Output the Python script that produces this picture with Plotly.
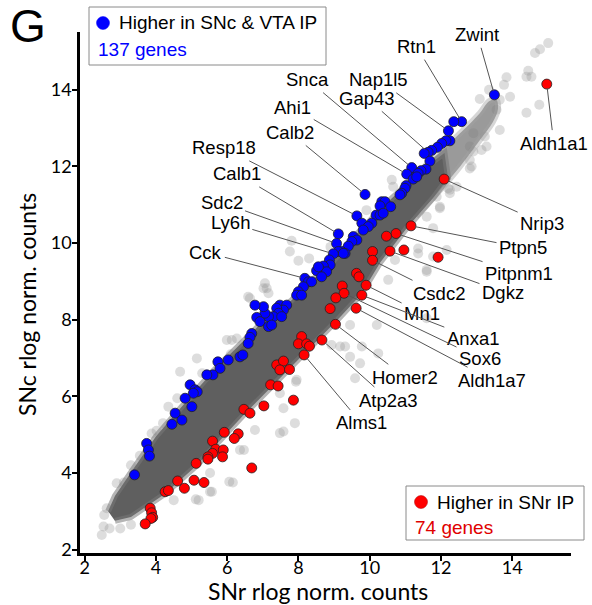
import plotly.graph_objects as go

# ---------------- data ----------------
blue_x = [13.50, 12.58, 12.36, 12.21, 12.25, 12.14, 12.02, 11.90, 11.74, 11.64, 11.53, 11.69, 11.58, 11.44,
          11.28, 11.18, 11.36, 11.04, 11.22, 11.32, 11.02, 10.99, 10.90, 10.85, 9.87, 10.34, 10.43, 10.59,
          10.29, 10.18, 10.29, 10.38, 9.64, 9.78, 10.06, 9.96, 9.82, 9.54, 9.64, 9.50, 9.40, 9.12, 9.07,
          9.21, 9.31, 9.12, 9.26, 8.98, 8.87, 8.84, 8.89, 8.70, 8.61, 8.51, 8.79, 8.65, 8.56, 8.18, 8.28,
          8.37, 8.14, 8.00, 7.95, 8.09, 7.48, 7.67, 7.58, 7.39, 7.44, 7.30, 7.53, 7.16, 7.06, 7.02, 6.78,
          6.83, 6.92, 7.16, 7.25, 6.69, 6.64, 6.59, 6.36, 6.44, 6.03, 5.74, 5.80, 5.60, 5.43, 4.96, 5.10,
          5.16, 5.05, 4.82, 5.01, 4.54, 4.73, 4.45, 3.74, 3.79, 3.82, 3.40]
blue_y = [13.87, 13.17, 13.17, 12.93, 12.67, 12.67, 12.60, 12.50, 12.42, 12.37, 12.34, 12.14, 11.93, 11.89,
          11.84, 11.97, 11.82, 11.80, 11.67, 11.73, 11.50, 11.43, 11.30, 11.26, 11.27, 11.08, 11.08, 10.95,
          10.97, 10.73, 10.73, 10.78, 10.71, 10.52, 10.52, 10.43, 10.34, 10.17, 10.08, 10.04, 9.92, 10.24, 9.99,
          9.78, 9.73, 9.78, 9.73, 9.72, 9.56, 9.38, 9.43, 9.40, 9.30, 9.28, 9.25, 9.12, 9.38, 9.08, 8.99,
          8.99, 8.86, 8.73, 8.64, 8.64, 8.38, 8.38, 8.25, 8.30, 8.17, 8.08, 8.08, 8.08, 8.17, 8.34, 8.38,
          8.06, 7.95, 7.82, 7.86, 7.64, 7.54, 7.38, 7.03, 7.08, 6.95, 6.90, 6.73, 6.56, 6.56, 6.30, 6.17,
          6.12, 6.08, 5.95, 5.73, 5.56, 5.38, 5.27, 4.77, 4.60, 4.44, 3.95]

red_x = [14.97, 12.09, 11.16, 10.74, 10.47, 10.96, 10.57, 11.92, 10.08, 10.08, 9.63, 9.70, 9.90, 9.23,
         9.28, 9.05, 9.78, 9.62, 8.89, 9.04, 8.09, 8.00, 8.23, 8.31, 8.66, 8.16, 7.39, 7.58, 7.48, 7.75,
         7.86, 7.22, 7.43, 6.47, 6.64, 7.03, 5.92, 6.31, 6.20, 5.59, 5.68, 5.89, 5.59, 5.46, 5.46, 5.87,
         5.13, 6.69, 4.61, 5.07, 5.35, 4.80, 4.26, 4.35, 3.84, 3.88, 3.91, 3.86, 3.70]
red_y = [14.15, 11.67, 10.45, 10.25, 10.18, 9.82, 9.79, 9.63, 9.78, 9.55, 9.21, 9.12, 8.90, 8.88,
         8.69, 8.57, 8.64, 8.30, 8.29, 7.88, 7.56, 7.37, 7.37, 7.31, 7.47, 7.08, 6.82, 6.92, 6.69, 6.70,
         5.90, 6.30, 6.27, 5.66, 5.56, 5.75, 5.06, 5.02, 4.90, 4.83, 4.62, 4.60, 4.51, 4.42, 4.36, 4.42,
         4.25, 4.13, 3.79, 3.81, 3.75, 3.60, 3.51, 3.54, 3.08, 2.96, 2.84, 2.81, 2.67]

# dense core of all other genes (outline of the dark band)
core_x = [2.66, 2.85, 3.40, 4.00, 4.70, 5.60, 6.30, 7.00, 7.80, 8.40, 8.80, 9.60, 10.60, 11.60, 12.10,
          12.20, 11.80, 11.05, 10.30, 9.75, 9.10, 8.40, 7.75, 7.00, 6.50, 5.90, 5.15, 4.25, 3.75, 3.30, 2.85]
core_y = [3.00, 3.40, 4.15, 4.95, 5.70, 6.65, 7.30, 7.95, 8.50, 9.05, 9.35, 10.20, 11.15, 12.00, 12.35,
          11.70, 11.20, 10.40, 9.50, 8.65, 8.00, 7.35, 6.70, 6.05, 5.55, 4.95, 4.20, 3.45, 3.12, 2.85, 2.75]
top_x = [11.20, 11.60, 12.44, 13.09, 13.35, 13.55, 13.60, 13.45, 13.10, 12.45, 11.80, 11.30]
top_y = [11.70, 12.05, 12.78, 13.39, 13.70, 13.75, 13.50, 13.15, 12.70, 11.90, 11.20, 10.70]

# sparse grey genes around the band
grey_x = [2.55, 2.62, 2.90, 3.10, 3.30, 3.55, 3.88, 4.02, 4.35, 4.20, 4.60, 4.68, 5.15, 5.30, 5.99, 6.13,
          6.27, 6.10, 6.59, 6.64, 7.02, 7.11, 7.06, 7.16, 7.81, 7.76, 8.00, 8.30, 8.90, 9.91, 10.62, 10.66,
          2.53, 2.48, 2.70, 3.00, 3.30, 4.50, 5.12, 5.20, 5.52, 5.57, 5.52, 6.06, 6.16, 6.36, 6.47, 6.78,
          7.48, 7.58, 7.90, 7.58, 7.48, 7.93, 7.95, 8.93, 9.17, 9.45, 9.73, 9.31, 9.78, 10.20, 10.24, 9.45,
          9.59, 11.60, 11.36, 11.78, 11.60, 10.52, 10.71, 12.16, 11.97, 12.20, 12.25, 11.88, 11.97, 11.60,
          11.78, 11.36, 11.60, 12.81, 12.86, 13.65, 13.28, 12.44, 12.25, 12.91, 12.81, 12.81, 13.14, 13.23,
          12.91, 15.01, 14.78, 14.64, 14.45, 14.40, 14.54, 13.84, 13.77, 13.94, 14.40, 14.76, 13.35, 13.09,
          13.65, 13.56]
grey_y = [2.90, 3.08, 3.73, 3.75, 4.20, 4.45, 5.03, 5.10, 5.73, 5.30, 5.95, 6.64, 6.99, 6.60, 7.47, 7.47,
          7.51, 7.10, 8.60, 8.56, 8.82, 8.82, 8.95, 8.69, 10.06, 9.78, 9.54, 9.60, 9.90, 10.86, 11.65, 11.47,
          2.60, 2.38, 2.55, 2.55, 2.65, 3.29, 3.31, 3.29, 3.51, 3.51, 4.00, 3.77, 3.75, 4.60, 4.60, 5.12,
          5.04, 5.08, 5.30, 5.69, 6.08, 6.38, 6.43, 7.34, 7.30, 7.03, 6.86, 7.30, 7.30, 7.86, 7.12, 7.86,
          6.47, 8.04, 9.73, 9.65, 9.25, 9.04, 9.56, 9.82, 10.91, 11.43, 11.30, 11.21, 10.95, 10.69,
          10.39, 9.86, 9.30, 12.52, 12.00, 12.95, 12.52, 11.47, 11.39, 12.39, 12.17, 11.95, 12.43, 12.78,
          12.87, 15.22, 15.06, 14.96, 14.50, 14.34, 14.34, 14.33, 14.13, 13.82, 13.40, 13.61, 14.00, 13.76,
          13.74, 13.48]

gene_names = ['Zwint', 'Rtn1', 'Nap1l5', 'Gap43', 'Snca', 'Ahi1', 'Calb2', 'Resp18', 'Calb1', 'Sdc2',
              'Ly6h', 'Cck', 'Aldh1a1', 'Nrip3', 'Ptpn5', 'Pitpnm1', 'Dgkz', 'Csdc2', 'Mn1', 'Anxa1',
              'Sox6', 'Aldh1a7', 'Homer2', 'Atp2a3', 'Alms1']
gene_x = [13.50, 12.58, 12.21, 11.64, 11.18, 11.04, 9.87, 9.64, 9.12, 9.07, 8.98, 8.18, 14.97, 12.09,
          11.16, 10.74, 10.57, 10.08, 9.90, 9.78, 9.28, 9.62, 9.04, 8.66, 8.16]
gene_y = [13.87, 13.17, 12.93, 12.37, 11.97, 11.80, 11.27, 10.71, 10.24, 9.99, 9.72, 9.08, 14.15, 11.67,
          10.45, 10.25, 9.79, 9.55, 8.90, 8.64, 8.69, 8.30, 7.88, 7.47, 7.08]

x_ticks = [2, 4, 6, 8, 10, 12, 14]
y_ticks = [2, 4, 6, 8, 10, 12, 14]

# ---------------- layout (label offsets in pixels) ----------------
label_offsets = {
    'Zwint': (-17, -60), 'Rtn1': (-45, -75), 'Nap1l5': (-70, -51), 'Gap43': (-61, -54),
    'Snca': (-104, -88), 'Ahi1': (-114, -67), 'Calb2': (-75, -62), 'Resp18': (-133, -68),
    'Calb1': (-101, -60), 'Sdc2': (-115, -41), 'Ly6h': (-103, -31), 'Cck': (-99, -26),
    'Aldh1a1': (7, 59), 'Nrip3': (98, 44), 'Ptpn5': (112, 22), 'Pitpnm1': (123, 40),
    'Dgkz': (113, 41), 'Csdc2': (66, 33), 'Mn1': (56, 28), 'Anxa1': (111, 43),
    'Sox6': (136, 65), 'Aldh1a7': (136, 72), 'Homer2': (70, 53), 'Atp2a3': (67, 60), 'Alms1': (57, 68),
}

W, H = 592, 605
L, R, T, B = 80, 21, 32, 52
PW, PH = W - L - R, H - T - B


def px(x):
    return (x - L) / PW


def py(y):
    return (H - B - y) / PH


ARIAL = 'Liberation Sans, Arial, sans-serif'
TICKF = 'Lato, Open Sans, sans-serif'

fig = go.Figure()
fig.add_trace(go.Scatter(x=grey_x, y=grey_y, mode='markers', hoverinfo='skip',
                         marker=dict(size=10, color='rgba(150,150,150,0.32)', line=dict(width=0))))
fig.add_trace(go.Scatter(x=top_x, y=top_y, mode='lines', fill='toself', hoverinfo='skip',
                         fillcolor='rgba(120,120,120,0.75)', line_shape='spline',
                         line=dict(color='rgba(165,165,165,0.45)', width=6)))
fig.add_trace(go.Scatter(x=core_x, y=core_y, mode='lines', fill='toself', hoverinfo='skip',
                         fillcolor='#5f5f5f',
                         line=dict(color='rgba(120,120,120,0.55)', width=6)))
fig.add_trace(go.Scatter(x=red_x, y=red_y, mode='markers',
                         marker=dict(size=10, color='#ff0000', line=dict(color='#222', width=0.8))))
fig.add_trace(go.Scatter(x=blue_x, y=blue_y, mode='markers',
                         marker=dict(size=10, color='#0000ff', line=dict(color='#222', width=0.8))))

annotations = []
for name, gx, gy in zip(gene_names, gene_x, gene_y):
    ax, ay = label_offsets[name]
    annotations.append(dict(x=gx, y=gy, xref='x', yref='y', text=name, showarrow=True,
                            ax=ax, ay=ay, arrowhead=0, arrowwidth=1, arrowcolor='#555',
                            standoff=4, borderpad=2, xanchor='center', yanchor='middle',
                            font=dict(family=ARIAL, size=18.5, color='black')))

# panel letter
annotations.append(dict(x=px(8), y=py(26), xref='paper', yref='paper', text='G', showarrow=False,
                        xanchor='left', yanchor='middle', font=dict(family=ARIAL, size=46, color='black')))
# legend texts and axis titles
annotations += [
    dict(x=px(117), y=py(23), xref='paper', yref='paper', text='Higher in SNc &amp; VTA IP', showarrow=False,
         xanchor='left', yanchor='middle', font=dict(family=ARIAL, size=19, color='black')),
    dict(x=px(96), y=py(50), xref='paper', yref='paper', text='137 genes', showarrow=False,
         xanchor='left', yanchor='middle', font=dict(family=ARIAL, size=19, color='#0000ff')),
    dict(x=px(435), y=py(502), xref='paper', yref='paper', text='Higher in SNr IP', showarrow=False,
         xanchor='left', yanchor='middle', font=dict(family=ARIAL, size=19, color='black')),
    dict(x=px(413), y=py(527), xref='paper', yref='paper', text='74 genes', showarrow=False,
         xanchor='left', yanchor='middle', font=dict(family=ARIAL, size=19, color='#e00000')),
    dict(x=px(318), y=py(591), xref='paper', yref='paper', text='SNr rlog norm. counts', showarrow=False,
         xanchor='center', yanchor='middle', font=dict(family=TICKF, size=23, color='black')),
    dict(x=px(27), y=py(305), xref='paper', yref='paper', text='SNc rlog norm. counts', showarrow=False,
         textangle=-90, xanchor='center', yanchor='middle', font=dict(family=TICKF, size=23, color='black')),
]

shapes = [
    dict(type='rect', xref='paper', yref='paper', x0=px(89), x1=px(326), y0=py(65), y1=py(7),
         line=dict(color='#8a8a8a', width=1), fillcolor='white', layer='above'),
    dict(type='rect', xref='paper', yref='paper', x0=px(406), x1=px(584), y0=py(540), y1=py(486),
         line=dict(color='#8a8a8a', width=1), fillcolor='white', layer='above'),
    dict(type='circle', xref='paper', yref='paper', xsizemode='pixel', ysizemode='pixel',
         xanchor=px(103), yanchor=py(23), x0=-6.5, x1=6.5, y0=-6.5, y1=6.5,
         fillcolor='#0000ff', line=dict(color='#0000ff', width=0.5), layer='above'),
    dict(type='circle', xref='paper', yref='paper', xsizemode='pixel', ysizemode='pixel',
         xanchor=px(421), yanchor=py(502), x0=-6.5, x1=6.5, y0=-6.5, y1=6.5,
         fillcolor='#ff0000', line=dict(color='#aa0000', width=0.5), layer='above'),
]

axis_common = dict(showgrid=False, zeroline=False, showline=True, linecolor='black', linewidth=2.5,
                   ticks='outside', ticklen=5, tickwidth=2, tickcolor='black',
                   tickfont=dict(family=TICKF, size=18, color='black'))
fig.update_layout(
    width=W, height=H, autosize=False,
    margin=dict(l=L, r=R, t=T, b=B),
    paper_bgcolor='white', plot_bgcolor='white',
    showlegend=False,
    xaxis=dict(range=[1.87, 15.65], tickvals=x_ticks, ticklabelstandoff=-8, **axis_common),
    yaxis=dict(range=[1.91, 15.51], tickvals=y_ticks, ticklabelstandoff=-3, **axis_common),
    annotations=annotations,
    shapes=shapes,
)
fig.write_html('out.html', config={'displayModeBar': False},
               post_script="document.body.style.margin='0';document.body.style.overflow='hidden';")
